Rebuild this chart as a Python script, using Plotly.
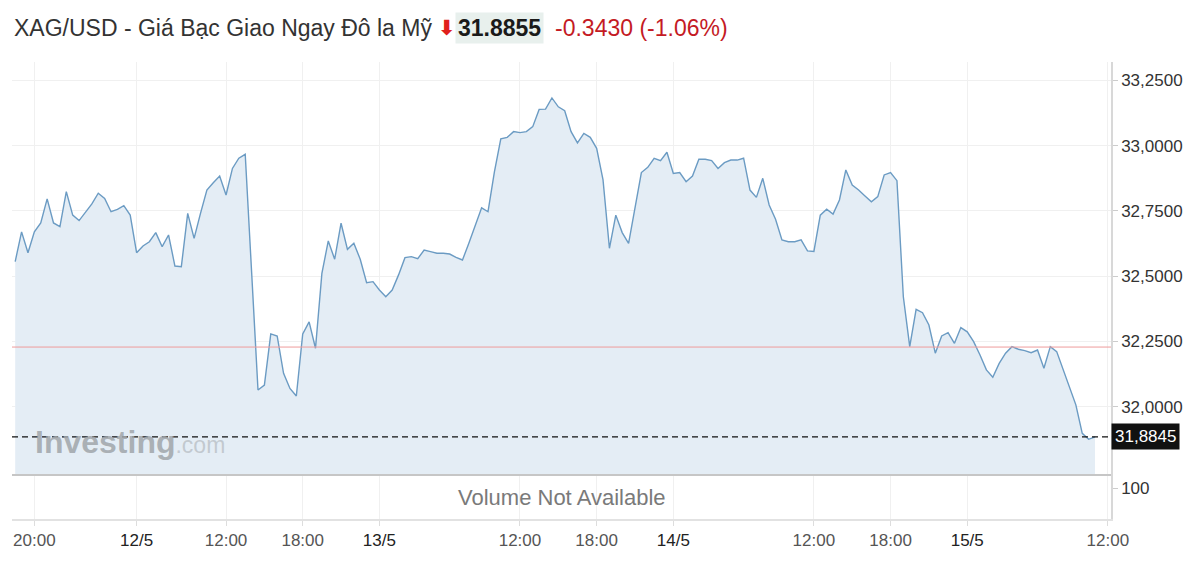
import pandas as pd
import plotly.graph_objects as go

# ---------------- data ----------------
SESSION1_START = "2025-05-09 18:30"
SESSION1_END = "2025-05-10 03:30"
SESSION2_START = "2025-05-12 05:00"
SESSION2_END = "2025-05-15 11:00"

PRICES = [
    32.556, 32.670, 32.590, 32.670, 32.704, 32.796, 32.704, 32.690, 32.824, 32.734,
    32.713, 32.747, 32.777, 32.818, 32.798, 32.747, 32.756, 32.770, 32.734, 32.590,
    32.616, 32.632, 32.667, 32.613, 32.658, 32.539, 32.536, 32.741, 32.645, 32.741,
    32.830, 32.858, 32.884, 32.811, 32.913, 32.952, 32.967, 32.516, 32.064, 32.083,
    32.279, 32.271, 32.128, 32.070, 32.041, 32.279, 32.325, 32.224, 32.511, 32.635,
    32.565, 32.703, 32.603, 32.626, 32.565, 32.475, 32.479, 32.447, 32.421, 32.447,
    32.505, 32.571, 32.575, 32.567, 32.600, 32.594, 32.588, 32.588, 32.585, 32.572,
    32.562, 32.626, 32.690, 32.762, 32.747, 32.900, 33.026, 33.032, 33.054, 33.050,
    33.054, 33.073, 33.139, 33.140, 33.183, 33.149, 33.134, 33.054, 33.011, 33.047,
    33.032, 32.990, 32.869, 32.607, 32.734, 32.667, 32.626, 32.766, 32.897, 32.917,
    32.952, 32.943, 32.975, 32.894, 32.897, 32.862, 32.884, 32.948, 32.948, 32.943,
    32.913, 32.935, 32.945, 32.945, 32.952, 32.830, 32.802, 32.875, 32.773, 32.718,
    32.639, 32.632, 32.632, 32.639, 32.597, 32.595, 32.734, 32.757, 32.738, 32.792,
    32.907, 32.849, 32.830, 32.807, 32.785, 32.805, 32.888, 32.897, 32.866, 32.421,
    32.230, 32.373, 32.360, 32.313, 32.205, 32.271, 32.284, 32.243, 32.303, 32.287,
    32.249, 32.198, 32.141, 32.113, 32.166, 32.205, 32.230, 32.220, 32.215, 32.207,
    32.217, 32.147, 32.230, 32.211, 32.143, 32.077, 32.007, 31.898, 31.875, 31.8845,
]

LAST_PRICE = 31.8845
PREV_CLOSE = 32.2285

TICK_TIMES = [
    "2025-05-09 20:00", "2025-05-12 05:00", "2025-05-12 12:00", "2025-05-12 18:00",
    "2025-05-13 00:00", "2025-05-13 12:00", "2025-05-13 18:00", "2025-05-14 00:00",
    "2025-05-14 12:00", "2025-05-14 18:00", "2025-05-15 00:00", "2025-05-15 12:00",
]
TICK_LABELS = ["20:00", "12/5", "12:00", "18:00", "13/5", "12:00", "18:00",
               "14/5", "12:00", "18:00", "15/5", "12:00"]
DAY_LABELS = {"12/5", "13/5", "14/5", "15/5"}

PRICE_TICKS = [32.0, 32.25, 32.5, 32.75, 33.0, 33.25]
VOLUME_TICKS = [100]

WEEKEND_BREAK = ["2025-05-10 04:00", "2025-05-12 05:00"]
DAILY_BREAKS = ["2025-05-13 04:00", "2025-05-14 04:00", "2025-05-15 04:00"]

TITLE = "XAG/USD - Giá Bạc Giao Ngay Đô la Mỹ"
QUOTE = "31.8855"
CHANGE = "-0.3430 (-1.06%)"

# ---------------- time axis ----------------
s1 = pd.date_range(SESSION1_START, SESSION1_END, freq="30min")
s2 = pd.date_range(SESSION2_START, SESSION2_END, freq="30min")
s2 = s2[s2.hour != 4]
times = list(s1) + list(s2)

FONT = "Arial, 'Liberation Sans', sans-serif"

fig = go.Figure()
fig.add_trace(go.Scatter(
    x=times, y=PRICES, mode="lines",
    line=dict(color="#6b9bc3", width=1.4),
    fill="tozeroy", fillcolor="#e4edf5",
    hoverinfo="skip", showlegend=False,
    xaxis="x", yaxis="y",
))
# empty volume pane
fig.add_trace(go.Scatter(
    x=times, y=[None] * len(times), mode="lines",
    hoverinfo="skip", showlegend=False, xaxis="x", yaxis="y2",
))

ticktext = [
    (f"<span style='color:#222'>{t}</span>" if t in DAY_LABELS else t)
    for t in TICK_LABELS
]

VOL_TOP = 0.0963

# the page body has an 8px margin, so the figure is sized to fit inside it
fig.update_layout(
    width=1184, height=548, autosize=False,
    margin=dict(l=4, r=81, t=54, b=37),
    paper_bgcolor="white", plot_bgcolor="white",
    separators=",.",
    font=dict(family=FONT, size=17, color="#333"),
    xaxis=dict(
        type="date", anchor="y2", domain=[0, 1],
        range=["2025-05-09 18:15", "2025-05-15 12:15"],
        rangebreaks=[
            dict(bounds=WEEKEND_BREAK),
            dict(values=DAILY_BREAKS, dvalue=3600000),
        ],
        tickmode="array", tickvals=TICK_TIMES, ticktext=ticktext,
        showgrid=True, gridcolor="#f0f0f0", gridwidth=1,
        showline=True, linecolor="#e2e2e2", linewidth=2,
        ticks="outside", ticklen=5, tickcolor="#dddddd",
        tickfont=dict(size=17, color="#555"),
        zeroline=False, fixedrange=True,
    ),
    yaxis=dict(
        domain=[VOL_TOP, 1], anchor="x", side="right",
        range=[31.7383, 33.3207],
        tickmode="array", tickvals=PRICE_TICKS, tickformat=".4f",
        showgrid=True, gridcolor="#f0f0f0", gridwidth=1,
        showline=True, linecolor="#d8d8d8", linewidth=1.5,
        ticks="outside", ticklen=5, tickcolor="#cccccc",
        tickfont=dict(size=17, color="#333"),
        zeroline=False, fixedrange=True,
    ),
    yaxis2=dict(
        domain=[0, VOL_TOP], anchor="x", side="right",
        range=[0, 142],
        tickmode="array", tickvals=VOLUME_TICKS,
        showgrid=False,
        showline=True, linecolor="#d8d8d8", linewidth=1.5,
        ticks="outside", ticklen=5, tickcolor="#cccccc",
        tickfont=dict(size=17, color="#333"),
        zeroline=False, fixedrange=True,
    ),
    shapes=[
        dict(type="line", xref="paper", x0=0, x1=1, yref="y",
             y0=PREV_CLOSE, y1=PREV_CLOSE,
             line=dict(color="#ee9c9c", width=1)),
        dict(type="line", xref="paper", x0=0, x1=1, yref="y",
             y0=LAST_PRICE, y1=LAST_PRICE,
             line=dict(color="#111", width=1.3, dash="6px,4px")),
        dict(type="line", xref="paper", x0=0, x1=1, yref="paper",
             y0=VOL_TOP, y1=VOL_TOP,
             line=dict(color="#c6c6c6", width=2)),
    ],
)

annotations = [
    # title pieces
    dict(xref="paper", yref="paper", x=0, y=1.0744, xanchor="left", yanchor="middle",
         text=TITLE, showarrow=False, font=dict(family=FONT, size=23, color="#333")),
    dict(xref="paper", yref="paper", x=0.3955, y=1.0744, xanchor="center", yanchor="middle",
         text="<b>⬇</b>", showarrow=False,
         font=dict(family="DejaVu Sans", size=21, color="#e0201c")),
    dict(xref="paper", yref="paper", x=0.4035, y=1.0744, xanchor="left", yanchor="middle",
         text=f"<b>{QUOTE}</b>", showarrow=False, bgcolor="#e8f0ed", borderpad=2,
         font=dict(family=FONT, size=23, color="#1a1a1a")),
    dict(xref="paper", yref="paper", x=0.4925, y=1.0744, xanchor="left", yanchor="middle",
         text=CHANGE, showarrow=False,
         font=dict(family=FONT, size=23, color="#c41a24")),
    # last price box on the axis
    dict(xref="paper", yref="y", x=1.0, y=LAST_PRICE, xanchor="left", yanchor="middle",
         text=f"{LAST_PRICE:.4f}".replace(".", ","), showarrow=False,
         bgcolor="#111111", borderpad=3,
         font=dict(family=FONT, size=17, color="white")),
    # volume text
    dict(xref="paper", yref="paper", x=0.5, y=0.048, xanchor="center", yanchor="middle",
         text="Volume Not Available", showarrow=False,
         font=dict(family=FONT, size=22, color="#7a7a7a")),
    # watermark
    dict(xref="paper", yref="paper", x=0.019, y=0.168, xanchor="left", yanchor="middle",
         text=("<b>Investing</b>"
               "<span style='font-size:23px;color:rgba(175,180,185,0.75)'>.com</span>"),
         showarrow=False,
         font=dict(family=FONT, size=32, color="rgba(160,165,170,0.85)")),
]
fig.update_layout(annotations=annotations)

fig.write_html("out.html")
